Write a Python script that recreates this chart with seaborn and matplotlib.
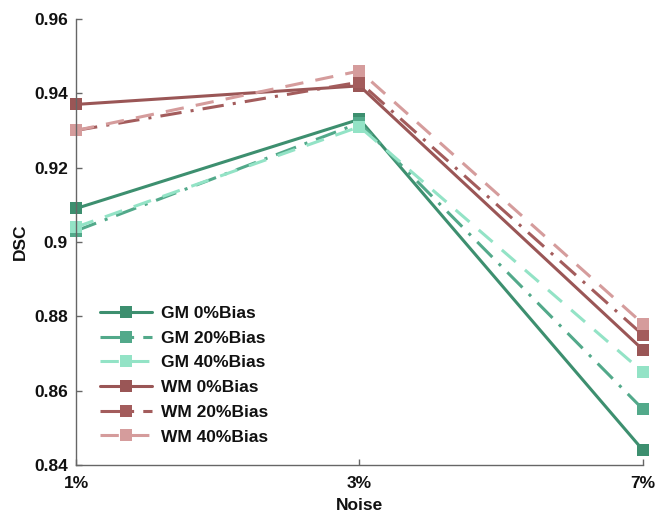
import matplotlib
matplotlib.use('Agg')
import matplotlib.pyplot as plt
import seaborn as sns
import pandas as pd

noise = ['1%', '3%', '7%']
series = ['GM 0%Bias', 'GM 20%Bias', 'GM 40%Bias', 'WM 0%Bias', 'WM 20%Bias', 'WM 40%Bias']
gm0 = [0.909, 0.933, 0.844]
gm20 = [0.903, 0.932, 0.855]
gm40 = [0.904, 0.931, 0.865]
wm0 = [0.937, 0.942, 0.871]
wm20 = [0.930, 0.943, 0.875]
wm40 = [0.930, 0.946, 0.878]
values = [gm0, gm20, gm40, wm0, wm20, wm40]

colors = ['#3d8f6f', '#52a98a', '#93e3c6', '#9a5656', '#a35c5c', '#d59c9c']
styles = ['-', (0, (7, 3, 1, 3)), (0, (6, 4)), '-', (0, (7, 3, 1, 3)), (0, (6, 4))]

sns.set_style('white')
plt.rcParams['font.family'] = ['Liberation Sans', 'DejaVu Sans']
plt.rcParams['font.weight'] = 'bold'
plt.rcParams['text.color'] = '#111111'
plt.rcParams['axes.labelcolor'] = '#111111'
plt.rcParams['xtick.color'] = '#666666'
plt.rcParams['ytick.color'] = '#666666'
plt.rcParams['xtick.labelcolor'] = '#111111'
plt.rcParams['ytick.labelcolor'] = '#111111'

fig = plt.figure(figsize=(6.56, 5.12), dpi=100)
ax = fig.add_axes([0.116, 0.092, 0.864, 0.871])

for name, vals, c, ls in zip(series, values, colors, styles):
    df = pd.DataFrame({'x': range(len(noise)), 'DSC': vals})
    sns.lineplot(data=df, x='x', y='DSC', ax=ax, color=c, linewidth=2.2,
                 linestyle=ls, marker='s', markersize=9, markeredgewidth=0,
                 label=name, clip_on=False)

ax.set_xlim(0, 2)
ax.set_ylim(0.84, 0.96)
ax.set_xticks(range(len(noise)))
ax.set_xticklabels(noise)
ax.set_yticks([0.84, 0.86, 0.88, 0.90, 0.92, 0.94, 0.96])
ax.set_yticklabels(['0.84', '0.86', '0.88', '0.9', '0.92', '0.94', '0.96'])
ax.tick_params(axis='both', direction='in', labelsize=12.5, length=4, width=1, left=True, bottom=True)
ax.tick_params(axis='x', pad=8)
ax.tick_params(axis='y', pad=6)
ax.set_xlabel('Noise', fontsize=12.5, fontweight='bold', labelpad=5)
ax.set_ylabel('DSC', fontsize=12.5, fontweight='bold', labelpad=4)
for s in ['top', 'right']:
    ax.spines[s].set_visible(False)
for s in ['left', 'bottom']:
    ax.spines[s].set_color('#666666')
    ax.spines[s].set_linewidth(1)

leg = ax.legend(loc='lower left', frameon=False, fontsize=12.5, handlelength=3.0,
                handletextpad=0.5, bbox_to_anchor=(0.03, 0.03), borderaxespad=0,
                labelspacing=0.55)
for t in leg.get_texts():
    t.set_fontweight('bold')

fig.savefig('out.png', dpi=100)
